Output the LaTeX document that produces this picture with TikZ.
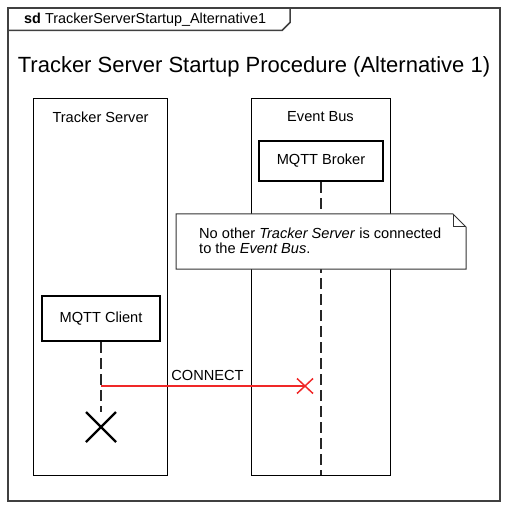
\documentclass[tikz,border=0pt]{standalone}
\usepackage{fontspec}
\setmainfont{Liberation Sans}
\usetikzlibrary{calc}
\definecolor{msgred}{RGB}{240,40,40}
\begin{document}
\begin{tikzpicture}[x=1pt,y=-1pt,
  frameline/.style={draw=black!75, line width=1.5pt},
  boxline/.style={draw=black, line width=1pt},
  headbox/.style={draw=black, line width=2.6pt, fill=white, minimum height=40pt, inner sep=0pt, font=\fontsize{14.6}{17}\selectfont},
  lifeline/.style={draw=black!85, line width=1.2pt, dash pattern=on 11pt off 5pt},
  msgline/.style={draw=msgred, line width=1.5pt},
  lbl/.style={font=\fontsize{14.6}{17}\selectfont, inner sep=0pt},
  notebox/.style={draw=black!80, line width=1pt, fill=white}]
\useasboundingbox (0,0) rectangle (508,510);
% frame
\draw[frameline] (8,8) rectangle (500,501);
\draw[frameline] (8,30.5) -- (282,30.5) -- (290,22.5) -- (290,8);
\node[lbl, anchor=west, font=\fontsize{14.4}{17}\selectfont] (tab) at (24,20) {\textbf{sd} TrackerServerStartup\_Alternative1};
% title
\node[inner sep=0pt, font=\fontsize{22}{25}\selectfont] (title) at (254,67) {Tracker Server Startup Procedure (Alternative 1)};
% lifeline containers
\draw[boxline] (33,99) rectangle (167,475);
\draw[boxline] (251,99) rectangle (390,475);
\node[lbl] (tsl) at (100.5,117) {Tracker Server};
\node[lbl] (ebl) at (320.5,117) {Event Bus};
% broker
\node[headbox, minimum width=124pt] (broker) at (321,161) {MQTT Broker};
\coordinate (brokerend) at (321,475);
\draw[lifeline] (broker.south) -- (brokerend);
% note
\draw[notebox] (176,214) -- (453,214) -- (466,227) -- (466,269) -- (176,269) -- cycle;
\draw[notebox, fill=none] (453,214) -- (453,227) -- (466,227);
\node[lbl, anchor=north west, align=left] (note) at (199,227.5) {No other \textit{Tracker Server} is connected\\[-1.5pt]to the \textit{Event Bus}.};
% client
\node[headbox, minimum width=118pt, minimum height=45pt] (client) at (101,318.5) {MQTT Client};
\coordinate (clientend) at (101,412);
\draw[lifeline] (client.south) -- (clientend);
% destruction
\coordinate (xc) at (101,427);
\draw[line width=2.2pt] ($(xc)+(-15,-15)$) -- ($(xc)+(15,15)$) ($(xc)+(-15,15)$) -- ($(xc)+(15,-15)$);
% message
\coordinate (m1) at (101,386);
\coordinate (m2) at (305,386);
\draw[msgline] (m1) -- (m2);
\draw[msgline] ($(m2)+(-8,-7.5)$) -- ($(m2)+(8,7.5)$) ($(m2)+(-8,7.5)$) -- ($(m2)+(8,-7.5)$);
\node[lbl, anchor=south] (conn) at (207.5,380.5) {CONNECT};
\end{tikzpicture}
\end{document}
